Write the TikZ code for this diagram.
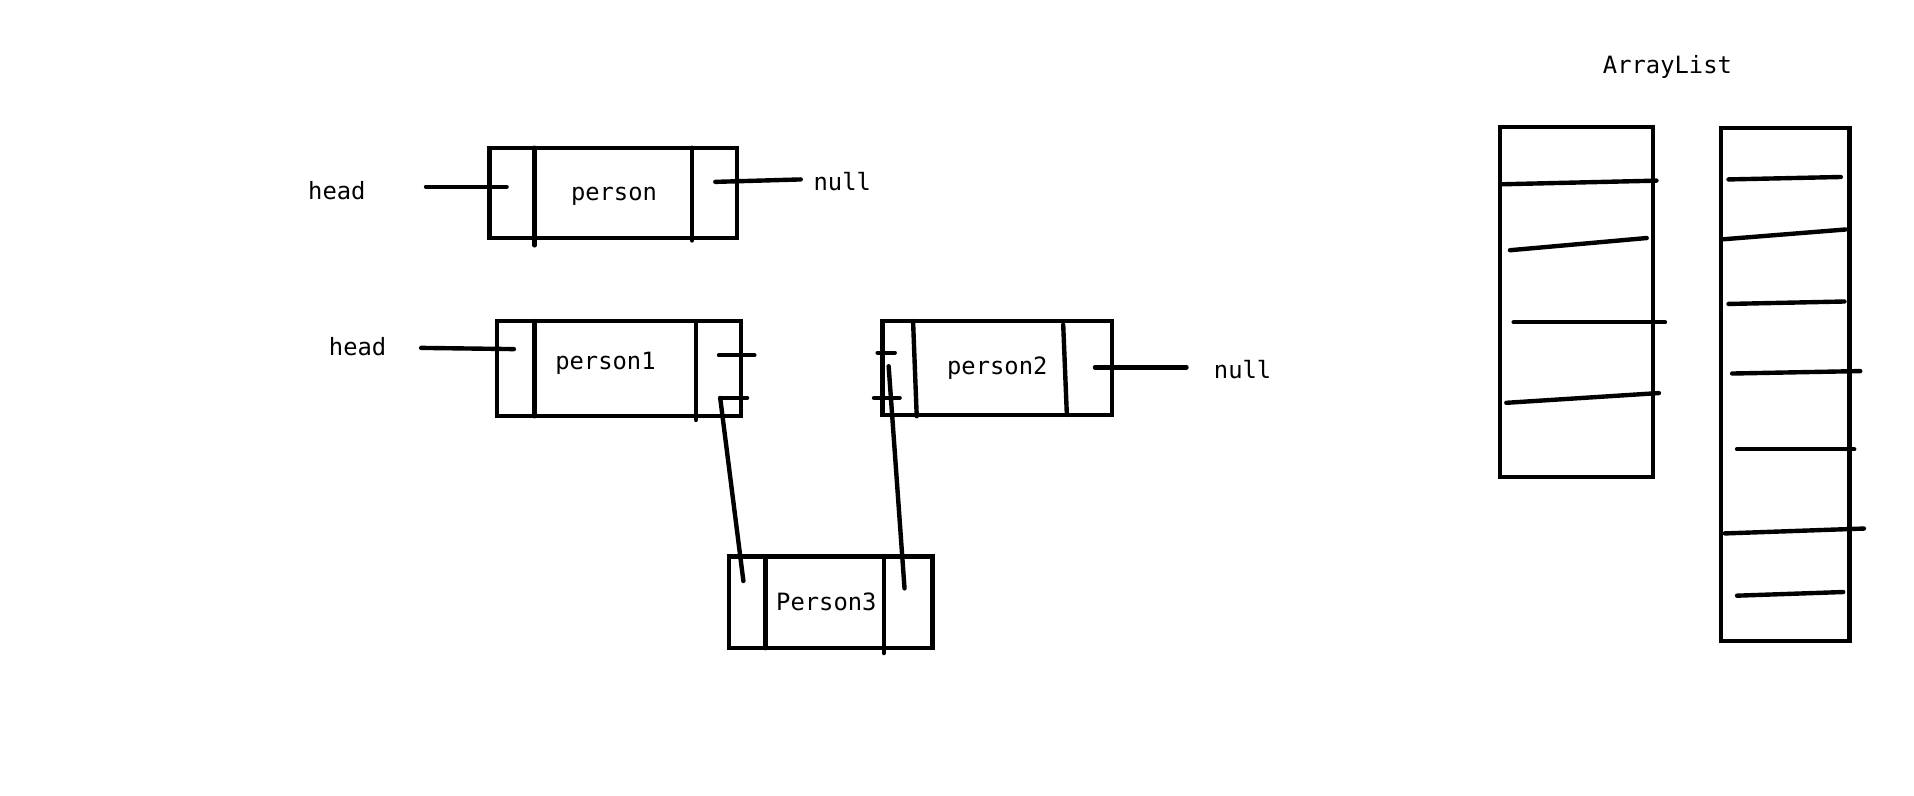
\documentclass[tikz,border=0pt]{standalone}
\usepackage{fontspec}
\setmonofont{DejaVu Sans Mono}
\begin{document}
\begin{tikzpicture}[x=1pt,y=-1pt,line width=3.6pt,line cap=round,
  lbl/.style={font=\ttfamily\fontsize{19.5}{22}\selectfont,inner sep=0pt}]
 \useasboundingbox (0,0) rectangle (1568,652);
 %BOXES
 \draw (401,121) rectangle (604,195);
 \draw (438,121) -- (438,201);
 \draw (567,121) -- (567,197);
 \draw (407,263) rectangle (607,341);
 \draw (438,263) -- (438,341);
 \draw (570,263) -- (570,344);
 \draw (723,263) rectangle (911,340);
 \draw (748,263) -- (751,341);
 \draw (871,266) -- (874,340);
 \draw (597,456) rectangle (764,531);
 \draw (627,456) -- (627,531);
 \draw (724,456) -- (724,535);
 %TEXT
 \node[lbl] (head1) at (276,156) {head};
 \node[lbl] (p0) at (503,161) {person};
 \node[lbl] (null1) at (690,149) {null};
 \node[lbl] (head2) at (293,284) {head};
 \node[lbl] (p1) at (496,298) {person1};
 \node[lbl] (p2) at (817,302) {person2};
 \node[lbl] (null2) at (1018,303) {null};
 \node[lbl] (p3) at (677,493) {Person3};
 \node[lbl] (alist) at (1366,55) {ArrayList};
 %LINES
 \draw (349,153) -- (415,153);
 \draw (586,149) -- (656,147);
 \draw (345,285) -- (421,286);
 \draw (589,291) -- (618,291);
 \draw (590,326) -- (612,326);
 \draw (590,326) -- (609,476);
 \draw (719,289) -- (733,289);
 \draw (716,326) -- (737,326);
 \draw (728,300) -- (741,482);
 \draw (897,301) -- (972,301);
 %ARRAYS
 \draw (1229,104) rectangle (1354,391);
 \draw (1229,151) -- (1357,148);
 \draw (1237,205) -- (1349,195);
 \draw (1240,264) -- (1364,264);
 \draw (1234,330) -- (1359,322);
 \draw (1410,105) rectangle (1515,525);
 \draw (1416,147) -- (1508,145);
 \draw (1412,196) -- (1512,188);
 \draw (1416,249) -- (1511,247);
 \draw (1419,306) -- (1524,304);
 \draw (1423,368) -- (1519,368);
 \draw (1413,437) -- (1527,433);
 \draw (1423,488) -- (1510,485);
\end{tikzpicture}
\end{document}
